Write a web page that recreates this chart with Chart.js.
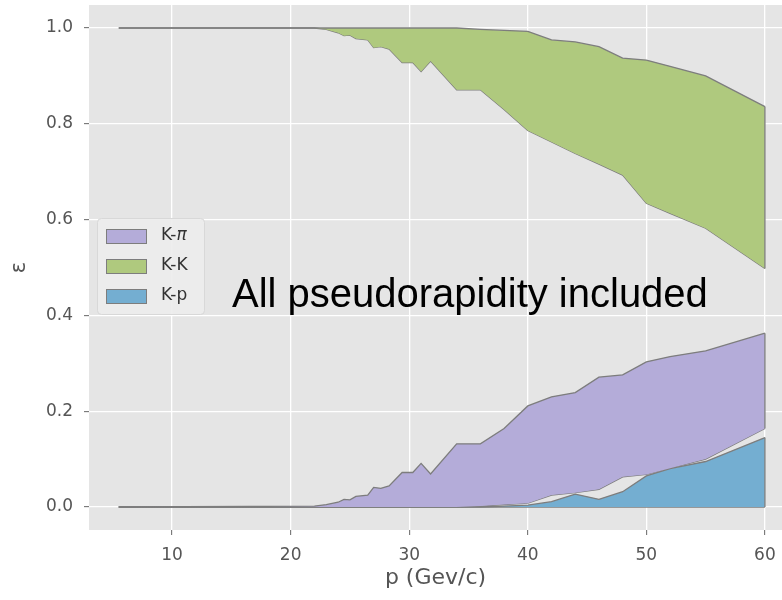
<!DOCTYPE html>
<html>
<head>
<meta charset="utf-8">
<script src="https://cdn.jsdelivr.net/npm/chart.js@4.4.1/dist/chart.umd.min.js"></script>
<style>
  html, body { margin: 0; padding: 0; background: #ffffff; }
  #wrap { width: 782px; height: 600px; }
</style>
</head>
<body>
<div id="wrap"><canvas id="chart" width="782" height="600"></canvas></div>
<script>
// momentum values (GeV/c)
const p = [5.5, 22, 23, 24, 24.5, 25, 25.5, 26.5, 27, 27.6, 28.3, 29.4, 30.3, 31, 31.8, 34, 36, 38, 40, 42, 44, 46, 48, 50, 52, 55, 60];

// K-K band
const kkHigh = [1, 1, 1, 1, 1, 1, 1, 1, 1, 1, 1, 1, 1, 1, 1, 1, 0.997, 0.995, 0.993, 0.975, 0.971, 0.961, 0.937, 0.933, 0.92, 0.9, 0.836];
const kkLow = [1, 1, 0.997, 0.99, 0.984, 0.985, 0.978, 0.975, 0.959, 0.961, 0.956, 0.928, 0.928, 0.909, 0.931, 0.871, 0.871, 0.83, 0.786, 0.762, 0.738, 0.716, 0.693, 0.634, 0.613, 0.582, 0.498];

// K-pi band
const kpiHigh = [0, 0.002, 0.005, 0.01, 0.016, 0.015, 0.022, 0.025, 0.041, 0.039, 0.044, 0.072, 0.072, 0.091, 0.069, 0.132, 0.132, 0.164, 0.211, 0.23, 0.239, 0.271, 0.276, 0.303, 0.314, 0.326, 0.363];
const kpiLow = [0, 0, 0, 0, 0, 0, 0, 0, 0, 0, 0, 0, 0, 0, 0, 0, 0.002, 0.005, 0.008, 0.025, 0.03, 0.037, 0.063, 0.068, 0.081, 0.1, 0.164];

// K-p band
const kpHigh = [0, 0, 0, 0, 0, 0, 0, 0, 0, 0, 0, 0, 0, 0, 0, 0, 0, 0.002, 0.004, 0.011, 0.027, 0.016, 0.032, 0.065, 0.08, 0.095, 0.145];
const kpLow = [0, 0, 0, 0, 0, 0, 0, 0, 0, 0, 0, 0, 0, 0, 0, 0, 0, 0, 0, 0, 0, 0, 0, 0, 0, 0, 0];

const xTicks = [10, 20, 30, 40, 50, 60];
const yTicks = [0, 0.2, 0.4, 0.6, 0.8, 1.0];

const legendNames = ['K-π', 'K-K', 'K-p'];

const EDGE = '#7d7d7d';
const PURPLE = '#b4acd9';
const GREEN = '#afc97e';
const BLUE = '#74aed1';
const TICK_FONT = { family: 'DejaVu Sans', size: 17 };

const pts = (ys) => p.map((x, i) => ({ x: x, y: ys[i] }));

function band(label, ys, fillColor, fillTo) {
  return {
    label: label,
    data: pts(ys),
    borderColor: EDGE,
    borderWidth: 1.3,
    backgroundColor: fillColor,
    fill: fillTo,
    pointRadius: 0,
    tension: 0,
  };
}

const bands = [
  { name: legendNames[0], high: kpiHigh, low: kpiLow, color: PURPLE },
  { name: legendNames[1], high: kkHigh, low: kkLow, color: GREEN },
  { name: legendNames[2], high: kpHigh, low: kpLow, color: BLUE },
];

const datasets = [];
bands.forEach((b) => {
  datasets.push(band(b.name, b.high, b.color, '+1'));
  datasets.push(band(b.name + ' low', b.low, b.color, false));
});

// no extra room for end labels, the panel fills the frame like the original
const noEdgePadding = (s) => {
  s.paddingTop = 0;
  s.paddingBottom = 0;
  s.paddingLeft = 0;
  s.paddingRight = 0;
};

const panel = {
  id: 'panel',
  beforeDraw(chart) {
    const { ctx, chartArea: a } = chart;
    ctx.save();
    ctx.fillStyle = '#e5e5e5';
    ctx.fillRect(a.left, a.top, a.right - a.left, a.bottom - a.top);
    ctx.restore();
  },
  afterDatasetsDraw(chart) {
    // closing edge at the last momentum value, like fill_between
    const { ctx, scales } = chart;
    const last = p.length - 1;
    ctx.save();
    ctx.strokeStyle = EDGE;
    ctx.lineWidth = 1.3;
    bands.forEach((b) => {
      const x = scales.x.getPixelForValue(p[last]);
      ctx.beginPath();
      ctx.moveTo(x, scales.y.getPixelForValue(b.high[last]));
      ctx.lineTo(x, scales.y.getPixelForValue(b.low[last]));
      ctx.stroke();
    });
    ctx.restore();
  },
  afterDraw(chart) {
    const { ctx, chartArea: a } = chart;
    ctx.save();

    // legend box
    const lx = a.left + 8, ly = 218, lw = 107, lh = 96;
    ctx.fillStyle = 'rgba(236,236,236,0.9)';
    ctx.strokeStyle = '#d8d8d8';
    ctx.lineWidth = 1;
    ctx.beginPath();
    ctx.roundRect(lx + 0.5, ly + 0.5, lw, lh, 4);
    ctx.fill();
    ctx.stroke();

    bands.forEach((b, i) => {
      const cy = ly + 18 + i * 30;
      ctx.fillStyle = b.color;
      ctx.fillRect(lx + 9, cy - 7, 41, 15);
      ctx.strokeStyle = EDGE;
      ctx.lineWidth = 1;
      ctx.strokeRect(lx + 9.5, cy - 6.5, 40, 14);

      ctx.fillStyle = '#333333';
      ctx.textBaseline = 'middle';
      ctx.textAlign = 'left';
      const tx = lx + 64;
      if (b.name === 'K-π') {
        ctx.font = '17px "DejaVu Sans"';
        ctx.fillText('K-', tx, cy);
        const w = ctx.measureText('K-').width;
        ctx.font = 'italic 17px "DejaVu Sans"';
        ctx.fillText('π', tx + w, cy);
      } else {
        ctx.font = '17px "DejaVu Sans"';
        ctx.fillText(b.name, tx, cy);
      }
    });

    // annotation
    ctx.fillStyle = '#000000';
    ctx.font = '40px "Liberation Sans"';
    ctx.textAlign = 'left';
    ctx.textBaseline = 'alphabetic';
    ctx.fillText('All pseudorapidity included', 232, 307);
    ctx.restore();
  },
};

new Chart(document.getElementById('chart'), {
  type: 'line',
  data: { datasets: datasets },
  options: {
    responsive: false,
    animation: false,
    layout: { padding: { top: 5, right: 0, left: 0, bottom: 0 } },
    plugins: {
      legend: { display: false },
      tooltip: { enabled: false },
    },
    scales: {
      x: {
        type: 'linear',
        min: 2.99,
        max: 61.44,
        afterBuildTicks: (s) => { s.ticks = xTicks.map((v) => ({ value: v })); },
        afterFit: (s) => { s.height = 70; noEdgePadding(s); },
        border: { display: false },
        grid: { color: '#ffffff', lineWidth: 1.3, tickColor: '#666666', tickLength: 5, tickWidth: 1 },
        ticks: { color: '#555555', font: TICK_FONT, padding: 10, maxRotation: 0 },
        title: {
          display: true,
          text: 'p (Gev/c)',
          color: '#555555',
          font: { family: 'DejaVu Sans', size: 22 },
          padding: { top: 0, bottom: 9 },
        },
      },
      y: {
        type: 'linear',
        min: -0.048,
        max: 1.048,
        afterBuildTicks: (s) => { s.ticks = yTicks.map((v) => ({ value: v })); },
        afterFit: (s) => { s.width = 89; noEdgePadding(s); },
        border: { display: false },
        grid: { color: '#ffffff', lineWidth: 1.3, tickColor: '#666666', tickLength: 5, tickWidth: 1 },
        ticks: {
          color: '#555555',
          font: TICK_FONT,
          padding: 11,
          callback: (v) => Number(v).toFixed(1),
        },
        title: {
          display: true,
          text: 'ε',
          color: '#555555',
          font: { family: 'DejaVu Sans', size: 21 },
          padding: { top: 7, bottom: 0 },
        },
      },
    },
  },
  plugins: [panel],
});
</script>
</body>
</html>
